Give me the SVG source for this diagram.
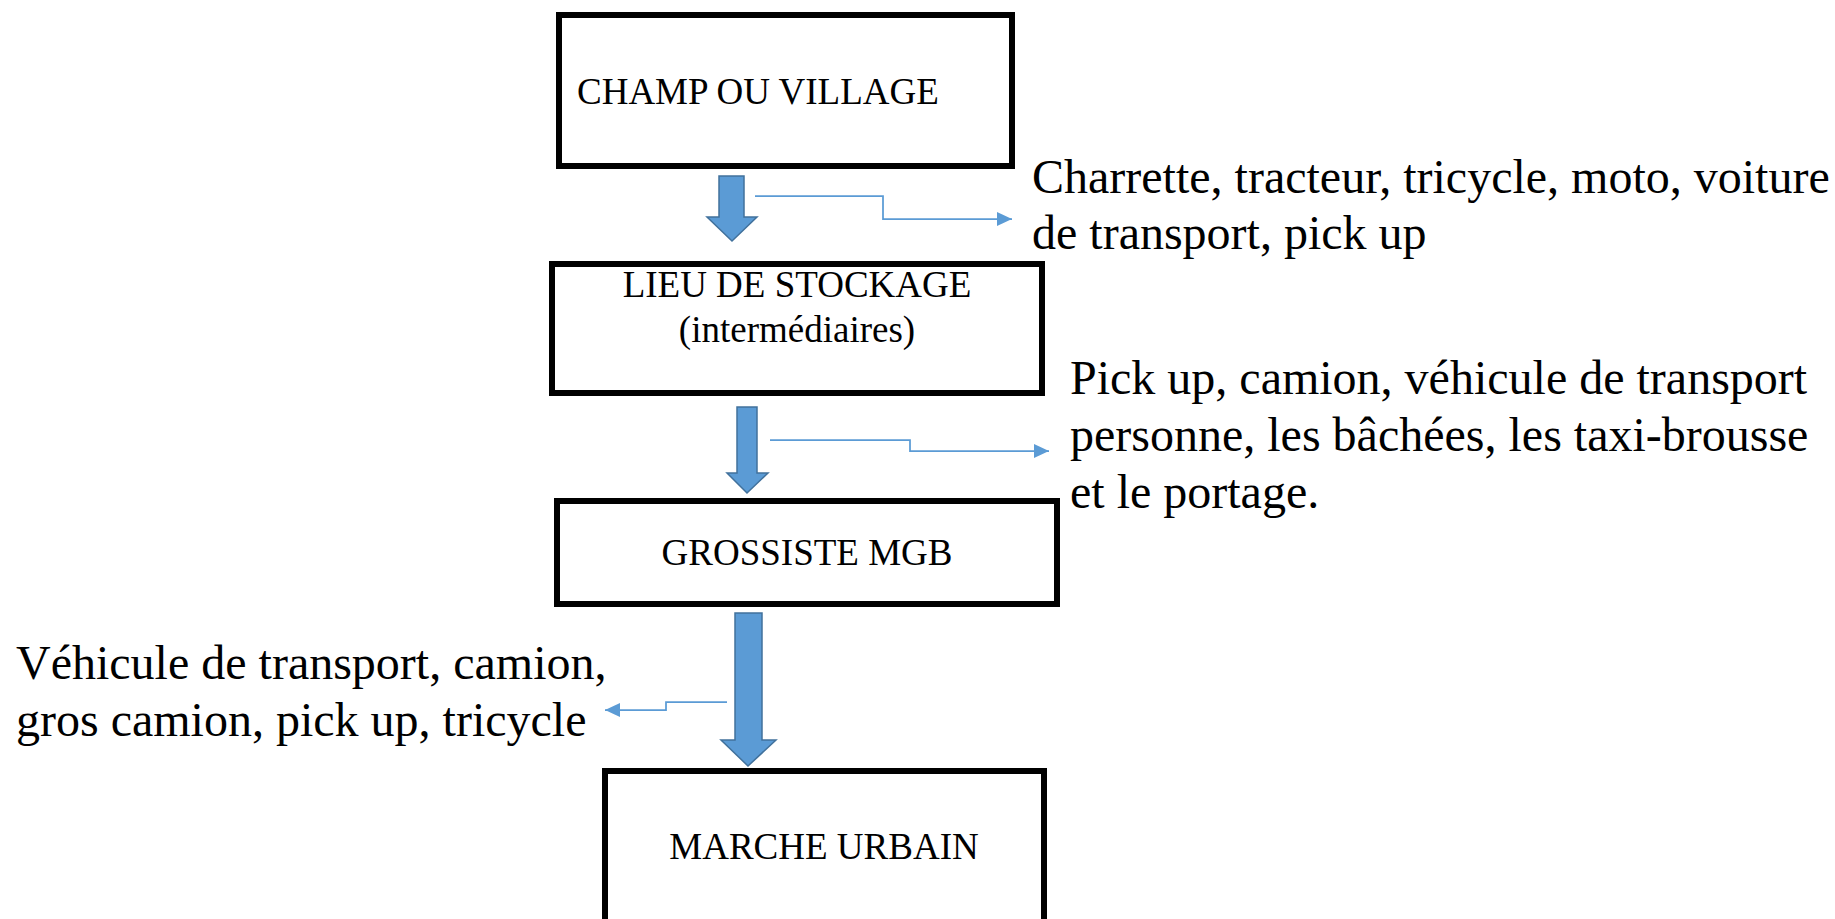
<svg xmlns="http://www.w3.org/2000/svg" width="1835" height="919" viewBox="0 0 1835 919">
<style>
  .box { fill: #ffffff; stroke: #000000; stroke-width: 6; }
  .bt { font-family: "Liberation Serif", "Times New Roman", serif; font-size: 37px; fill: #000000; }
  .st { font-family: "Liberation Serif", "Times New Roman", serif; font-size: 48px; fill: #000000; }
  .big { fill: #5B9BD5; stroke: #41719C; stroke-width: 1.5; stroke-linejoin: miter; }
  .con { fill: none; stroke: #5B9BD5; stroke-width: 1.75; }
</style>
<defs>
  <marker id="ah" markerUnits="userSpaceOnUse" viewBox="0 0 15 14" refX="15" refY="7" markerWidth="15" markerHeight="14" orient="auto">
    <path d="M0,0 L15,7 L0,14 z" fill="#5B9BD5"/>
  </marker>
</defs>
<rect width="1835" height="919" fill="#ffffff"/>

<g id="champ">
  <rect class="box" x="559" y="15" width="453" height="151"/>
  <text class="bt" x="577" y="104">CHAMP OU VILLAGE</text>
</g>

<g id="stockage">
  <rect class="box" x="552" y="264" width="490" height="129"/>
  <text class="bt" x="797" y="297" text-anchor="middle">LIEU DE STOCKAGE</text>
  <text class="bt" x="797" y="342" text-anchor="middle">(intermédiaires)</text>
</g>

<g id="grossiste">
  <rect class="box" x="557" y="501" width="500" height="103"/>
  <text class="bt" x="807" y="565" text-anchor="middle">GROSSISTE MGB</text>
</g>

<g id="marche">
  <rect class="box" x="605" y="771" width="439" height="200"/>
  <text class="bt" x="824" y="859" text-anchor="middle">MARCHE URBAIN</text>
</g>

<g id="label-transport-1">
  <text class="st" x="1032" y="193">Charrette, tracteur, tricycle, moto, voiture</text>
  <text class="st" x="1032" y="249">de transport, pick up</text>
</g>

<g id="label-transport-2">
  <text class="st" x="1070" y="394">Pick up, camion, véhicule de transport</text>
  <text class="st" x="1070" y="451">personne, les bâchées, les taxi-brousse</text>
  <text class="st" x="1070" y="508">et le portage.</text>
</g>

<g id="label-transport-3">
  <text class="st" x="16" y="679">Véhicule de transport, camion,</text>
  <text class="st" x="16" y="736">gros camion, pick up, tricycle</text>
</g>

<g id="connectors">
  <polygon class="big" points="719,176 744,176 744,217 757,217 732,241 707,217 719,217"/>
  <polygon class="big" points="737,407 757,407 757,473 768,473 747,493 727,473 737,473"/>
  <polygon class="big" points="735,613 762,613 762,740 776,740 748,766 721,740 735,740"/>
  <path class="con" d="M755,196 H883 V219 H1012" marker-end="url(#ah)"/>
  <path class="con" d="M770,440 H910 V451 H1049" marker-end="url(#ah)"/>
  <path class="con" d="M727,702 H666 V710 H605" marker-end="url(#ah)"/>
</g>
</svg>
